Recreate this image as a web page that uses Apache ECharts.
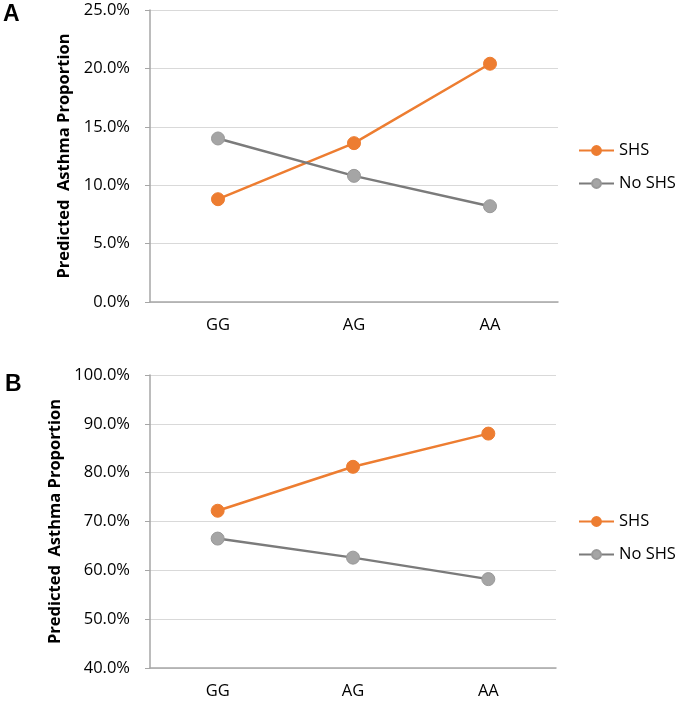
<!DOCTYPE html>
<html>
<head>
<meta charset="utf-8">
<script src="https://cdn.jsdelivr.net/npm/echarts@6/dist/echarts.min.js"></script>
<style>
html,body{margin:0;padding:0;background:#fff;}
#chart{width:675px;height:702px;}
</style>
</head>
<body>
<div id="chart"></div>
<script>
var categories = ['GG', 'AG', 'AA'];
var seriesNames = ['SHS', 'No SHS'];
var panelA_SHS = [8.8, 13.6, 20.4];
var panelA_NoSHS = [14.0, 10.8, 8.2];
var panelB_SHS = [72.2, 81.2, 88.0];
var panelB_NoSHS = [66.5, 62.6, 58.2];
var yAxisName = 'Predicted  Asthma Proportion';
var panelLabels = ['A', 'B'];

var FONT = '"Open Sans", sans-serif';
var orange = '#ED7D31';
var grayMarker = '#A5A5A5';
var grayLine = '#7B7B7B';

function yAxis(idx, min, max, interval, gap) {
  return {
    type: 'value', gridIndex: idx, min: min, max: max, interval: interval,
    name: yAxisName, nameLocation: 'middle', nameGap: gap,
    nameTextStyle: { fontFamily: FONT, fontWeight: 'bold', fontSize: 16.5, color: '#000' },
    axisLine: { show: true, lineStyle: { color: '#a6a6a6', width: 1.5 } },
    axisTick: { show: true, length: 5, lineStyle: { color: '#a6a6a6' } },
    axisLabel: { fontFamily: FONT, fontSize: 16.5, color: '#000', margin: 20,
      formatter: function (v) { return v.toFixed(1) + '%'; } },
    splitLine: { show: true, lineStyle: { color: '#d9d9d9', width: 1 } }
  };
}
function xAxis(idx) {
  return {
    type: 'category', gridIndex: idx, data: categories, boundaryGap: true,
    axisLine: { show: true, lineStyle: { color: '#a6a6a6', width: 1.5 } },
    axisTick: { show: false },
    axisLabel: { fontFamily: FONT, fontSize: 16.5, color: '#000', margin: 15 }
  };
}
function series(name, idx, data, color, lineColor) {
  return {
    name: name, type: 'line', xAxisIndex: idx, yAxisIndex: idx, data: data,
    symbol: 'circle', symbolSize: 13,
    itemStyle: { color: color, borderColor: color === grayMarker ? '#999' : color, borderWidth: 1 },
    lineStyle: { color: lineColor, width: 2.5 },
    emphasis: { disabled: true }, animation: false
  };
}
function legend(top) {
  return {
    orient: 'vertical', left: 578, top: top, itemGap: 16, padding: 0,
    itemWidth: 35, itemHeight: 11,
    textStyle: { fontFamily: FONT, fontSize: 16.5, color: '#000' },
    data: seriesNames.slice()
  };
}

var chart = echarts.init(document.getElementById('chart'), null, { renderer: 'canvas' });
chart.setOption({
  backgroundColor: '#fff',
  animation: false,
  title: [
    { text: panelLabels[0], left: 3, top: 3, padding: 0, textStyle: { fontFamily: 'Liberation Sans, Arial, sans-serif', fontWeight: 'bold', fontSize: 23, color: '#000' } },
    { text: panelLabels[1], left: 5, top: 373, padding: 0, textStyle: { fontFamily: 'Liberation Sans, Arial, sans-serif', fontWeight: 'bold', fontSize: 23, color: '#000' } }
  ],
  legend: [legend(142), legend(513)],
  grid: [
    { left: 150, top: 10, width: 408, height: 292 },
    { left: 150, top: 375, width: 406, height: 293 }
  ],
  xAxis: [xAxis(0), xAxis(1)],
  yAxis: [yAxis(0, 0, 25, 5, 73), yAxis(1, 40, 100, 10, 82)],
  series: [
    series('SHS', 0, panelA_SHS, orange, orange),
    series('No SHS', 0, panelA_NoSHS, grayMarker, grayLine),
    series('SHS', 1, panelB_SHS, orange, orange),
    series('No SHS', 1, panelB_NoSHS, grayMarker, grayLine)
  ]
});
</script>
</body>
</html>
